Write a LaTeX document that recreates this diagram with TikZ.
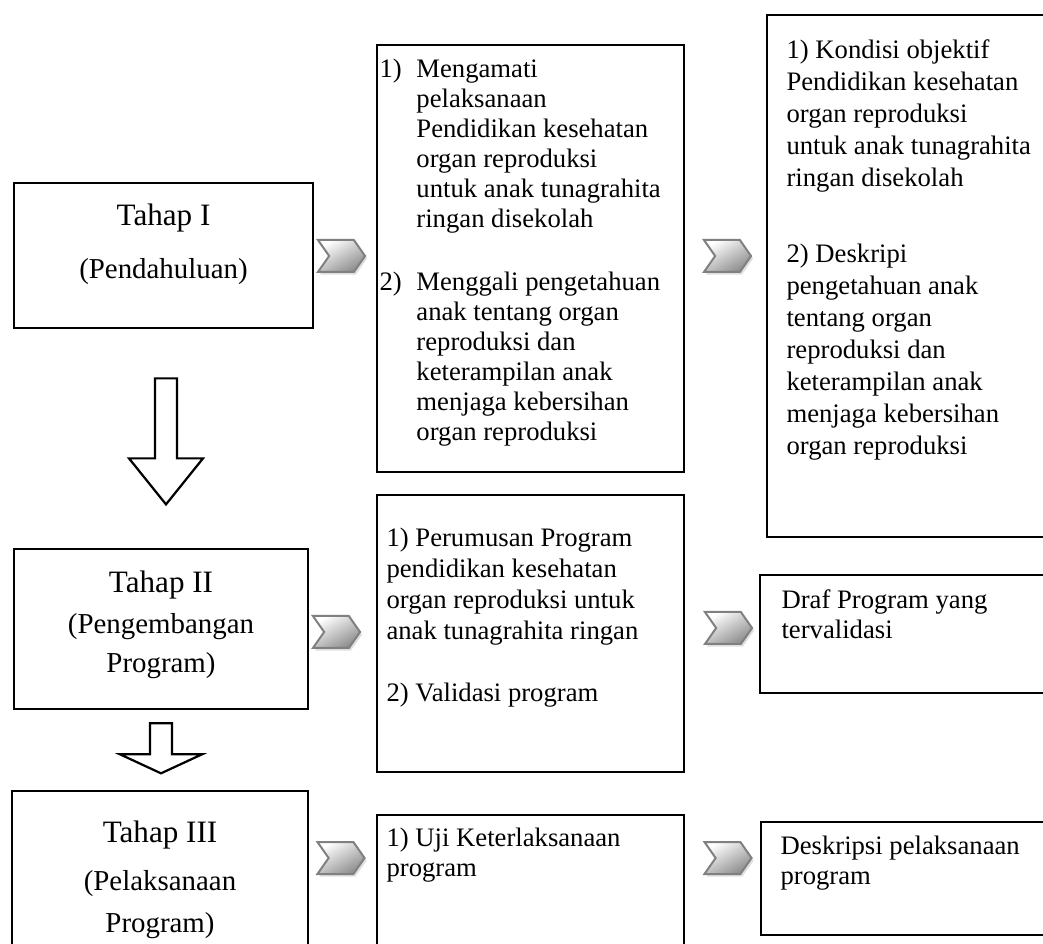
\documentclass[tikz,border=0pt]{standalone}
\usepackage{fontspec}
\setmainfont{Liberation Serif}
\usetikzlibrary{positioning,shapes.symbols,shadows,calc}
\newcommand{\itemlbl}[1]{\makebox[16.6pt][l]{#1}}
\newcommand{\itemind}{\hspace*{16.6pt}}
\tikzset{
  stage/.style={draw, line width=1.2pt, inner sep=0pt},
  panel/.style={draw, line width=0.8pt, inner sep=0pt},
  stitle/.style={align=center, inner sep=0pt, font=\fontsize{13}{15}\selectfont},
  ptext/.style={align=left, inner sep=0pt, font=\fontsize{12}{13.5}\selectfont},
  chev/.style={signal, signal from=west, signal to=east, signal pointer angle=110,
               minimum width=21.2pt, minimum height=14.4pt, inner sep=0pt,
               draw=black!50, line width=0.9pt, top color=white, bottom color=black!45, shading angle=30,
               drop shadow={shadow xshift=0.9pt, shadow yshift=-1.2pt, opacity=0.25}},
  hollow/.style={draw, line width=1pt, fill=white, line join=miter},
}

\begin{document}
\begin{tikzpicture}[x=0.45pt, y=0.45pt]
  \clip (0,0) rectangle (1043,943);
  \useasboundingbox (0,0) rectangle (1043,943);

  % stages
  \node[stage, minimum width=134.6pt, minimum height=65.3pt] (T1) at (163.5,687.5) {};
  \node[stage, minimum width=132.3pt, minimum height=72pt]   (T2) at (161,314) {};
  \node[stage, minimum width=133.2pt, minimum height=94pt]   (T3) at (160,47.5) {};
  \node[stitle, below=9.9pt of T1.north] (T1t)
    {{\fontsize{14}{15}\selectfont Tahap I}\\[8.9pt](Pendahuluan)};
  \node[stitle, below=10.35pt of T2.north] (T2t)
    {{\fontsize{14}{15}\selectfont Tahap II}\\[3.5pt](Pengembangan\\[2.5pt]Program)};
  \node[stitle, below=13.95pt of T3.north] (T3t)
    {{\fontsize{14}{15}\selectfont Tahap III}\\[6.6pt](Pelaksanaan\\[3.9pt]Program)};

  % activity panels
  \node[panel, minimum width=138.15pt, minimum height=192.15pt] (M1) at (530.5,684.5) {};
  \node[panel, minimum width=138.15pt, minimum height=124.65pt] (M2) at (530.5,309.5) {};
  \node[panel, minimum width=138.15pt, minimum height=83.25pt]  (M3) at (530.5,35.5) {};
  \node[ptext, below right=6.3pt and 1.35pt of M1.north west] (M1t)
    {\itemlbl{1)}Mengamati\\ \itemind pelaksanaan\\ \itemind Pendidikan kesehatan\\
     \itemind organ reproduksi\\ \itemind untuk anak tunagrahita\\ \itemind ringan disekolah\\[15pt]
     \itemlbl{2)}Menggali pengetahuan\\ \itemind anak tentang organ\\ \itemind reproduksi dan\\
     \itemind keterampilan anak\\ \itemind menjaga kebersihan\\ \itemind organ reproduksi};
  \node[ptext, font=\fontsize{12}{14}\selectfont, below right=14.85pt and 4.5pt of M2.north west] (M2t)
    {1) Perumusan Program\\ pendidikan kesehatan\\ organ reproduksi untuk\\
     anak tunagrahita ringan\\[14pt] 2) Validasi program};
  \node[ptext, below right=5.85pt and 4.5pt of M3.north west] (M3t)
    {1) Uji Keterlaksanaan\\ program};

  % result panels
  \node[panel, minimum width=149.85pt, minimum height=234.9pt] (R1) at (933.5,667) {};
  \node[panel, minimum width=153pt, minimum height=53.1pt]     (R2) at (930,309) {};
  \node[panel, minimum width=152.55pt, minimum height=50.85pt] (R3) at (930.5,64.5) {};
  \node[ptext, font=\fontsize{12}{14.4}\selectfont, below right=11.25pt and 9pt of R1.north west] (R1t)
    {1) Kondisi objektif\\ Pendidikan kesehatan\\ organ reproduksi\\ untuk anak tunagrahita\\
     ringan disekolah\\[20pt] 2) Deskripi\\ pengetahuan anak\\ tentang organ\\ reproduksi dan\\
     keterampilan anak\\ menjaga kebersihan\\ organ reproduksi};
  \node[ptext, below right=6.75pt and 9.9pt of R2.north west] (R2t)
    {Draf Program yang\\ tervalidasi};
  \node[ptext, below right=6.3pt and 9pt of R3.north west] (R3t)
    {Deskripsi pelaksanaan\\ program};

  % chevrons between columns
  \node[chev] (C1a) at (341.5,687) {};
  \node[chev] (C1b) at (727.5,687) {};
  \node[chev] (C2a) at (336.5,311) {};
  \node[chev] (C2b) at (728.5,315) {};
  \node[chev] (C3a) at (341,85) {};
  \node[chev] (C3b) at (728,85) {};

  % block arrows between stages
  \draw[hollow] ($(T1.south)+(-8.5,-49)$) -- ++(0,-80) -- ++(-26,0) -- ++(37,-46)
    -- ++(37,46) -- ++(-26,0) -- ++(0,80) -- cycle;
  \draw[hollow] ($(T2.south)+(-11,-13)$) -- ++(0,-31) -- ++(-30,0) -- ++(41,-19)
    -- ++(41,19) -- ++(-30,0) -- ++(0,31) -- cycle;
\end{tikzpicture}
\end{document}
